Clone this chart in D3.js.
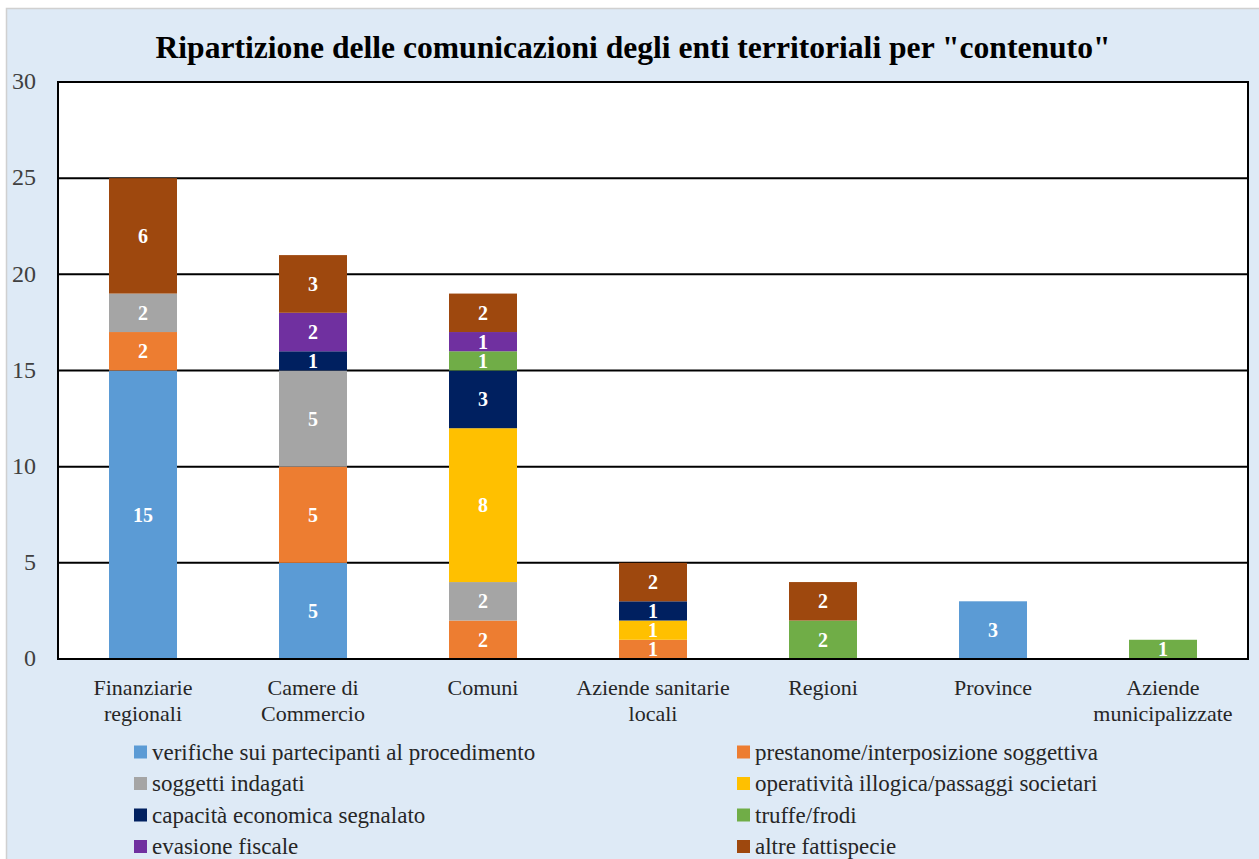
<!DOCTYPE html>
<html><head><meta charset="utf-8">
<script src="https://cdn.jsdelivr.net/npm/d3@7"></script>
<style>
html,body{margin:0;padding:0;background:#fff;}
svg{display:block;}
text{font-family:"Liberation Serif","DejaVu Serif",serif;}
</style></head>
<body>
<svg id="chart" width="1259" height="859"></svg>
<script>
const title = 'Ripartizione delle comunicazioni degli enti territoriali per "contenuto"';
const categories = [
  ["Finanziarie","regionali"],
  ["Camere di","Commercio"],
  ["Comuni"],
  ["Aziende sanitarie","locali"],
  ["Regioni"],
  ["Province"],
  ["Aziende","municipalizzate"]
];
const seriesNames = [
  "verifiche sui partecipanti al procedimento",
  "prestanome/interposizione soggettiva",
  "soggetti indagati",
  "operatività illogica/passaggi societari",
  "capacità economica segnalato",
  "truffe/frodi",
  "evasione fiscale",
  "altre fattispecie"
];
const seriesColors = ["#5B9BD5","#ED7D31","#A5A5A5","#FFC000","#002060","#70AD47","#7030A0","#9E480E"];
// values per series, one per category
const verifiche   = [15, 5, 0, 0, 0, 3, 0];
const prestanome  = [ 2, 5, 2, 1, 0, 0, 0];
const soggetti    = [ 2, 5, 2, 0, 0, 0, 0];
const operativita = [ 0, 0, 8, 1, 0, 0, 0];
const capacita    = [ 0, 1, 3, 1, 0, 0, 0];
const truffe      = [ 0, 0, 1, 0, 2, 0, 1];
const evasione    = [ 0, 2, 1, 0, 0, 0, 0];
const altre       = [ 6, 3, 2, 2, 2, 0, 0];
const yTicks = [0,5,10,15,20,25,30];

const seriesValues = [verifiche, prestanome, soggetti, operativita, capacita, truffe, evasione, altre];
const catKeys = categories.map(c => c.join(" "));
const table = catKeys.map((k,i) => {
  const row = {cat:k};
  seriesNames.forEach((s,j) => row[s] = seriesValues[j][i]);
  return row;
});

const svg = d3.select("#chart");
const W = 1259, H = 859;
svg.append("rect").attr("x",0).attr("y",0).attr("width",W).attr("height",H).attr("fill","#ffffff");
svg.append("rect").attr("x",6.5).attr("y",8.5).attr("width",W).attr("height",H).attr("fill","#DEEAF6").attr("stroke","#d0d0d0").attr("stroke-width",1.5);

const m = {left:58, right:1248, top:82, bottom:659};
const x = d3.scaleBand().domain(catKeys).range([m.left, m.right]).paddingInner(0.6).paddingOuter(0.3);
const y = d3.scaleLinear().domain([0,30]).range([m.bottom, m.top]);

svg.append("rect").attr("x",m.left).attr("y",m.top).attr("width",m.right-m.left).attr("height",m.bottom-m.top).attr("fill","#fff");

svg.append("g").selectAll("line").data(yTicks).join("line")
  .attr("x1",m.left).attr("x2",m.right)
  .attr("y1",d=>y(d)).attr("y2",d=>y(d))
  .attr("stroke","#000").attr("stroke-width",2);

const stack = d3.stack().keys(seriesNames)(table);
const g = svg.append("g");
stack.forEach((layer,j) => {
  g.append("g").selectAll("rect").data(layer.filter(d=>d[1]-d[0]>0)).join("rect")
    .attr("x",d=>x(d.data.cat)).attr("width",x.bandwidth())
    .attr("y",d=>y(d[1])).attr("height",d=>y(d[0])-y(d[1]))
    .attr("fill",seriesColors[j]);
});
stack.forEach((layer,j) => {
  g.append("g").selectAll("text").data(layer.filter(d=>d[1]-d[0]>0)).join("text")
    .attr("x",d=>x(d.data.cat)+x.bandwidth()/2)
    .attr("y",d=>(y(d[0])+y(d[1]))/2)
    .attr("dy","0.35em")
    .attr("text-anchor","middle")
    .attr("fill","#fff").attr("font-weight","bold").attr("font-size",20)
    .text(d=>d[1]-d[0]);
});

svg.append("rect").attr("x",m.left).attr("y",m.top).attr("width",m.right-m.left).attr("height",m.bottom-m.top)
  .attr("fill","none").attr("stroke","#000").attr("stroke-width",2);

svg.append("g").selectAll("text").data(yTicks).join("text")
  .attr("x",36).attr("y",d=>y(d)).attr("dy","0.3em")
  .attr("text-anchor","end").attr("font-size",24).attr("fill","#404040")
  .text(d=>d);

categories.forEach((lines,i) => {
  const cx = x(catKeys[i]) + x.bandwidth()/2;
  const t = svg.append("text").attr("text-anchor","middle").attr("font-size",22).attr("fill","#262626")
    .attr("x", cx).attr("y", 695);
  lines.forEach((l,k) => t.append("tspan").attr("x", cx).attr("dy", k===0?0:26).text(l));
});

svg.append("text").attr("x",633).attr("y",58).attr("text-anchor","middle")
  .attr("font-size",31.6).attr("font-weight","bold").attr("fill","#000").text(title);

const lg = svg.append("g");
seriesNames.forEach((s,j) => {
  const col = j%2, row = Math.floor(j/2);
  const lx = col===0 ? 134 : 737;
  const ly = 752 + row*31.5;
  lg.append("rect").attr("x",lx).attr("y",ly-6.5).attr("width",13).attr("height",13).attr("fill",seriesColors[j]);
  lg.append("text").attr("x",lx+18).attr("y",ly).attr("dy","0.33em").attr("font-size",23).attr("fill","#262626").text(s);
});
</script>
</body></html>
